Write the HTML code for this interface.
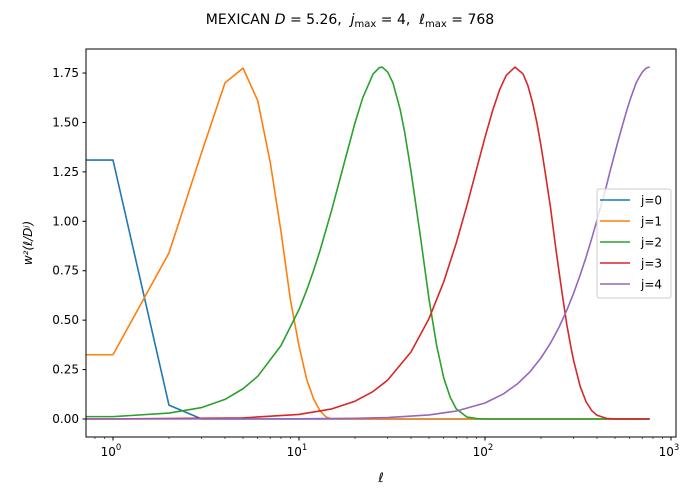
<!DOCTYPE html>
<html><head><meta charset="utf-8"><style>
body{margin:0;background:#fff;}
svg{display:block;font-family:"DejaVu Sans","Liberation Sans",sans-serif;}
</style></head><body>
<svg id="chart" width="700" height="500" viewBox="0 0 700 500">
<text x="350" y="24" text-anchor="middle" font-size="14" xml:space="preserve">MEXICAN <tspan font-style="italic">D</tspan> = 5.26,  <tspan font-style="italic">j</tspan><tspan font-size="10" dy="3">max</tspan><tspan dy="-3"> = 4,  </tspan><tspan font-style="italic">ℓ</tspan><tspan font-size="10" dy="3">max</tspan><tspan dy="-3"> = 768</tspan></text>
<g id="plot"></g>
</svg>
<script>
const seriesNames = ["j=0","j=1","j=2","j=3","j=4"];
const colors = ["#1f77b4","#ff7f0e","#2ca02c","#d62728","#9467bd"];
const ell0 = [1,2,3,768];
const val0 = [1.31,0.07,0,0];
const ell1 = [1,2,3,4,5,6,7,8,9,10,11,12,13,14,15,768];
const val1 = [0.325,0.84,1.35,1.70,1.775,1.61,1.30,0.95,0.60,0.37,0.20,0.10,0.04,0.01,0,0];
const ell2 = [1,2,3,4,5,6,8,10,11,12,13,15,17,20,22,25,27,28,30,32,35,37,40,42,45,50,55,60,65,70,80,90,100,768];
const val2 = [0.012,0.03,0.058,0.099,0.153,0.216,0.371,0.553,0.652,0.753,0.855,1.058,1.25,1.498,1.624,1.745,1.777,1.780,1.755,1.700,1.565,1.450,1.254,1.116,0.92,0.607,0.37,0.208,0.11,0.052,0.0096,0.002,0,0];
const ell3 = [1,5,10,15,20,25,30,40,50,60,70,80,100,110,120,130,145,160,170,180,190,200,210,225,240,250,260,275,290,300,325,350,375,400,450,500,768];
const val3 = [0.0002,0.0057,0.023,0.051,0.090,0.139,0.197,0.339,0.508,0.694,0.889,1.081,1.425,1.561,1.667,1.738,1.78,1.746,1.687,1.602,1.50,1.382,1.256,1.07,0.866,0.746,0.633,0.48,0.361,0.293,0.164,0.086,0.042,0.019,0.003,0.0004,0];
const ell4 = [1,10,20,30,50,70,100,125,150,175,200,225,250,275,300,325,350,375,400,420,450,470,500,520,550,575,600,625,650,675,700,730,750,768];
const val4 = [0,0.0008,0.0033,0.0074,0.0206,0.040,0.081,0.126,0.179,0.240,0.309,0.384,0.464,0.549,0.638,0.729,0.821,0.914,1.006,1.079,1.18,1.252,1.348,1.408,1.49,1.553,1.609,1.657,1.70,1.729,1.754,1.772,1.778,1.780];
const xTicks = [1,10,100,1000];
const xTickLabels = ["0","1","2","3"];
const yTicks = [0,0.25,0.5,0.75,1.0,1.25,1.5,1.75];
const yTickLabels = ["0.00","0.25","0.50","0.75","1.00","1.25","1.50","1.75"];

const L=86,R=676,T=49,B=437;
const dec=186;
function xs(v){return 113+dec*Math.log10(v);}
function ys(v){return 419-197.7*v;}
const NS="http://www.w3.org/2000/svg";
const g=document.getElementById("plot");
function mk(tag,attrs,parent){const e=document.createElementNS(NS,tag);for(const k in attrs)e.setAttribute(k,attrs[k]);(parent||g).appendChild(e);return e;}

const clip=mk("clipPath",{id:"cp"});mk("rect",{x:L,y:T,width:R-L,height:B-T},clip);
const allE=[ell0,ell1,ell2,ell3,ell4], allV=[val0,val1,val2,val3,val4];
for(let s=0;s<5;s++){
  let d="M"+L+","+ys(allV[s][0]);
  for(let i=0;i<allE[s].length;i++) d+=" L"+xs(allE[s][i]).toFixed(2)+","+ys(allV[s][i]).toFixed(2);
  const p=mk("path",{d:d,fill:"none",stroke:colors[s],"stroke-width":1.6,"clip-path":"url(#cp)","stroke-linejoin":"round"});
  
  
}
const frame=mk("rect",{x:L,y:T,width:R-L,height:B-T,fill:"none",stroke:"#000","stroke-width":1});



for(let i=0;i<xTicks.length;i++){
  const x=xs(xTicks[i]);
  mk("line",{x1:x,x2:x,y1:B,y2:B+3.5,stroke:"#000"});
  const t=mk("text",{x:x-2,y:B+19,"text-anchor":"middle","font-size":12});
  t.textContent="10";
  const sp=mk("tspan",{"font-size":8.5,dy:-6},t);sp.textContent=xTickLabels[i];
  
  
}
for(let dcd=-1;dcd<3;dcd++){for(let m=2;m<10;m++){const v=m*Math.pow(10,dcd);const x=xs(v);if(x<L||x>R)continue;mk("line",{x1:x,x2:x,y1:B,y2:B+2,stroke:"#000","stroke-width":0.6});}}
for(let i=0;i<yTicks.length;i++){
  const y=ys(yTicks[i]);
  mk("line",{x1:L-3.5,x2:L,y1:y,y2:y,stroke:"#000"});
  const t=mk("text",{x:L-7,y:y+4,"text-anchor":"end","font-size":12});
  t.textContent=yTickLabels[i];
  
  
}
const xl=mk("text",{x:381,y:482,"text-anchor":"middle","font-size":13,"font-style":"italic"});xl.textContent="ℓ";


const yl=mk("text",{transform:"translate(32,243) rotate(-90)","text-anchor":"middle","font-size":12,"font-style":"italic"});yl.textContent="w²(ℓ/Dʲ)";



const lg=mk("g",{});


mk("rect",{x:597,y:189,width:74,height:109,rx:2,fill:"#fff","fill-opacity":0.8,stroke:"#ccc"},lg);
for(let s=0;s<5;s++){
  const y=200+21*s;
  const e=mk("g",{},lg);
  
  
  mk("line",{x1:600,x2:630,y1:y,y2:y,stroke:colors[s],"stroke-width":1.5},e);
  const t=mk("text",{x:641,y:y+4.5,"font-size":12},e);t.textContent=seriesNames[s];
}
</script>
</body></html>
